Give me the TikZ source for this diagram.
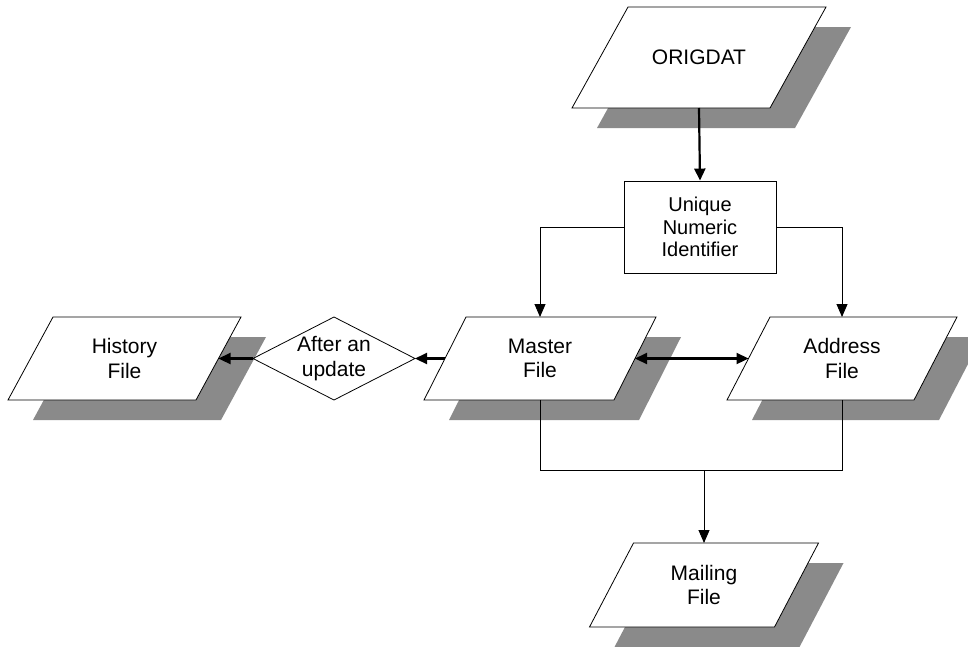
\documentclass[tikz,border=0pt]{standalone}
\usepackage{fontspec}
\setmainfont{Liberation Sans}
\usetikzlibrary{arrows.meta,calc}
\definecolor{shadowgray}{RGB}{138,138,138}
\tikzset{
  filetext/.style={align=center,inner sep=0pt,font=\fontsize{21}{24.5}\selectfont},
  procbox/.style={draw,line width=0.9pt,minimum width=152pt,minimum height=92pt,align=center,inner sep=0pt,font=\fontsize{20}{22.5}\selectfont},
  thin arrow/.style={line width=0.9pt,-{Triangle[length=13pt,width=11pt]}},
  thin line/.style={line width=0.9pt},
  thick arrow/.style={line width=2.2pt,-{Triangle[length=12pt,width=11pt]}},
  thick double/.style={line width=2.2pt,{Triangle[length=12pt,width=11pt]}-{Triangle[length=12pt,width=11pt]}},
}
\newcommand\parafile[7]{%
  \begin{scope}[shift={(#2,#3)}]
    \fill[shadowgray] ({-#4/2+#6/2+25},{-#5/2+20}) -- ({#4/2+#6/2+25},{-#5/2+20}) -- ({#4/2-#6/2+25},{#5/2+20}) -- ({-#4/2-#6/2+25},{#5/2+20}) -- cycle;
    \filldraw[fill=white,draw=black,line width=0.8pt] ({-#4/2+#6/2},{-#5/2}) -- ({#4/2+#6/2},{-#5/2}) -- ({#4/2-#6/2},{#5/2}) -- ({-#4/2-#6/2},{#5/2}) -- cycle;
    \node[filetext] (#1) at (0,0) {#7};
    \coordinate (#1-t) at (0,{-#5/2});
    \coordinate (#1-b) at (0,{#5/2});
    \coordinate (#1-l) at ({-#4/2},0);
    \coordinate (#1-r) at ({#4/2},0);
  \end{scope}}
\begin{document}
\begin{tikzpicture}[x=1pt,y=-1pt]
\useasboundingbox[fill=white] (0,0) rectangle (968,646);
% files
\parafile{orig}{699}{57.5}{198}{101}{56}{ORIGDAT}
\parafile{hist}{124.5}{358.5}{188}{83}{45}{History\\File}
\parafile{master}{540}{358.5}{190}{83}{42}{Master\\File}
\parafile{addr}{842}{358.5}{187}{83}{43}{Address\\File}
\parafile{mail}{704}{585}{185}{84}{44}{Mailing\\File}
% process box
\node[procbox] (box) at (700,227) {Unique\\Numeric\\Identifier};
% decision diamond
\coordinate (dia-l) at (253,358.5);
\coordinate (dia-r) at (415,358.5);
\coordinate (dia-t) at (334,317);
\coordinate (dia-b) at (334,400);
\draw[line width=0.8pt] (dia-l) -- (dia-t) -- (dia-r) -- (dia-b) -- cycle;
\node[filetext] (dia) at (334,358.5) {After an\\update};
% connectors
\draw[thick arrow] (orig-b) -- (box.north);
\draw[thin arrow] (box.west) -| (master-t);
\draw[thin arrow] (box.east) -| (addr-t);
\draw[thick double] (master-r) -- (addr-l);
\draw[thick arrow] (master-l) -- (dia-r);
\draw[thick arrow] (dia-l) -- (hist-r);
\coordinate (junc) at (704,470);
\draw[thin line] (master-b) |- (junc);
\draw[thin line] (addr-b) |- (junc);
\draw[thin arrow] (junc) -- (mail-t);
\end{tikzpicture}
\end{document}
